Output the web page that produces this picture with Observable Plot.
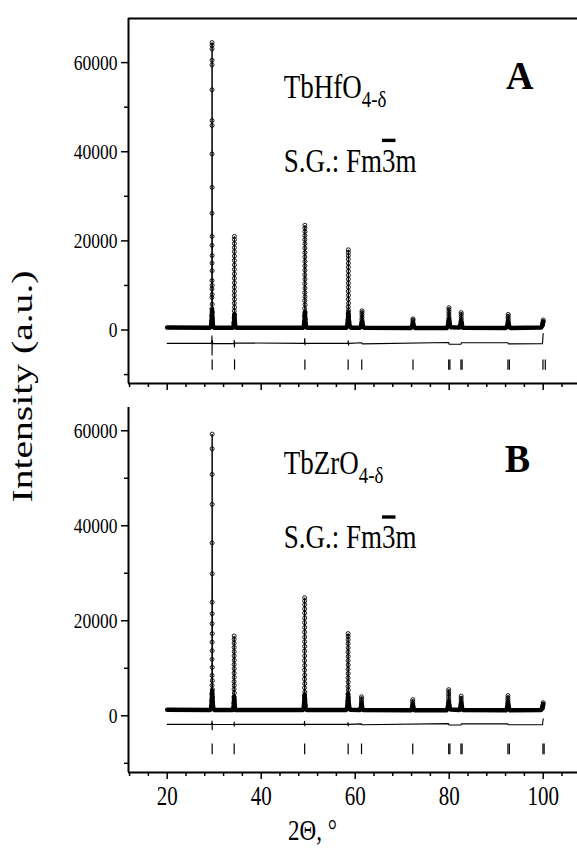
<!DOCTYPE html>
<html><head><meta charset="utf-8">
<script src="https://cdn.jsdelivr.net/npm/d3@7"></script>
<script src="https://cdn.jsdelivr.net/npm/@observablehq/plot@0.6"></script>
<style>
body{margin:0;background:#fff;}
#wrap{position:relative;width:577px;height:853px;background:#fff;}
#wrap > div{position:absolute;left:0;}
</style></head><body>
<div id="wrap"><div id="pa" style="top:0"></div><div id="pb" style="top:395px"></div></div>
<script>
// ---------- axes ----------
const xDomain = [11.77, 107.3];
const xMajor = [20, 40, 60, 80, 100];
const xMinor = [12, 16, 24, 28, 32, 36, 44, 48, 52, 56, 64, 68, 72, 76, 84, 88, 92, 96, 104];
const yMajor = [0, 20000, 40000, 60000];
const yMinor = [-10000, 10000, 30000, 50000];
const yDomainA = [-12000, 69900];
const yDomainB = [-11940, 64900];

// ---------- texts ----------
const formulaA = ["TbHfO", "4-δ"];
const formulaB = ["TbZrO", "4-δ"];
const sgParts = ["S.G.: Fm", "3", "m"];
const panelLetters = ["A", "B"];
const xLabel = "2Θ, °";
const yLabel = "Intensity (a.u.)";

// ---------- panel A (TbHfO4-δ) ----------
// observed points (circles) on the reflections [2θ, I]
const obsA = [
  [29.55,64500],[29.55,63900],[29.55,63100],[29.55,60500],[29.55,59500],[29.55,53900],[29.55,47000],[29.55,45900],[29.54,39500],[29.56,32000],[29.54,26200],[29.56,21000],[29.54,19000],[29.56,16700],[29.54,15000],[29.56,13300],[29.53,11100],[29.57,10000],[29.53,9200],[29.57,8000],[29.52,7300],[29.58,5800],[29.51,4800],[29.6,4000],[29.49,3200],[29.62,2600],[29.46,2100],[29.65,1600],[29.42,1200],[29.7,1000],
  [34.3,21000],[34.3,20300],[34.3,19400],[34.3,18500],[34.29,17600],[34.31,16600],[34.29,15600],[34.31,14600],[34.29,13600],[34.31,12600],[34.29,11600],[34.31,10600],[34.29,9600],[34.31,8700],[34.28,7800],[34.32,6900],[34.28,6000],[34.33,5100],[34.27,4300],[34.34,3500],[34.25,2800],[34.36,2200],[34.22,1700],[34.4,1300],
  [49.3,23500],[49.3,22900],[49.3,22100],[49.3,21200],[49.29,20300],[49.31,19400],[49.29,18400],[49.31,17400],[49.29,16400],[49.31,15400],[49.29,14400],[49.31,13400],[49.29,12400],[49.31,11400],[49.28,10400],[49.32,9400],[49.28,8400],[49.32,7500],[49.27,6600],[49.33,5700],[49.26,4800],[49.34,4000],[49.24,3200],[49.36,2500],[49.22,1900],[49.4,1400],
  [58.55,18000],[58.55,17400],[58.55,16700],[58.54,15900],[58.56,15000],[58.54,14100],[58.56,13200],[58.54,12300],[58.56,11400],[58.54,10500],[58.56,9600],[58.53,8700],[58.57,7800],[58.53,6900],[58.58,6000],[58.52,5200],[58.59,4400],[58.5,3600],[58.61,2900],[58.48,2300],[58.64,1800],[58.45,1400],
  [61.45,4300],[61.45,3900],[61.44,3400],[61.46,2900],[61.42,2400],[61.49,1900],[61.38,1500],[61.54,1100],
  [72.3,2500],[72.3,2200],[72.28,1800],[72.33,1400],[72.24,1100],
  [79.95,5000],[79.95,4600],[79.94,4100],[79.96,3600],[79.93,3100],[79.98,2600],[79.9,2100],[80.03,1700],[79.85,1300],[80.1,1000],
  [82.55,3900],[82.55,3500],[82.54,3000],[82.57,2500],[82.51,2000],[82.61,1600],[82.46,1200],
  [92.55,3500],[92.55,3100],[92.53,2700],[92.58,2300],[92.49,1900],[92.63,1500],[92.43,1150],
  [100.0,2250],[99.96,1800],[99.9,1400],[99.82,1050]
];
// dense observed background (overlapping circles form a band)
const bandA = [
  [20,550],[29.1,520],[29.35,800],[29.47,2200],[29.55,4500],[29.63,2200],[29.75,800],[30.05,520],
  [33.95,520],[34.12,900],[34.25,2200],[34.3,3500],[34.35,2200],[34.45,900],[34.7,520],
  [48.9,500],[49.1,900],[49.23,2500],[49.3,4000],[49.37,2500],[49.5,900],[49.75,500],
  [58.1,500],[58.35,1000],[58.48,2600],[58.55,4000],[58.62,2600],[58.8,1000],[59.05,520],
  [61.05,520],[61.25,900],[61.45,2000],[61.65,900],[61.9,500],
  [71.9,480],[72.1,800],[72.3,1500],[72.5,800],[72.7,480],
  [79.5,480],[79.75,1000],[79.95,2500],[80.15,1000],[80.45,600],
  [82.15,550],[82.35,1000],[82.55,2000],[82.75,1000],[82.95,500],
  [92.1,480],[92.35,900],[92.55,1800],[92.75,900],[93.0,480],
  [99.55,550],[99.8,1000],[100,1900]
];
// calculated profile
const calcA = [
  [20,550],[29.3,700],[29.47,3000],[29.55,64500],[29.63,3000],[29.8,700],
  [34.15,650],[34.26,3000],[34.3,21000],[34.34,3000],[34.45,650],
  [49.12,600],[49.25,3000],[49.3,23500],[49.35,3000],[49.48,600],
  [58.38,600],[58.5,3000],[58.55,18000],[58.6,3000],[58.75,600],
  [61.28,600],[61.45,4300],[61.62,600],
  [72.12,550],[72.3,2500],[72.48,550],
  [79.75,600],[79.95,5000],[80.15,650],
  [82.35,650],[82.55,3900],[82.75,600],
  [92.35,550],[92.55,3500],[92.75,550],
  [99.8,700],[100,2250]
];
// difference curve
const diffA = [
  [20,-3000],[29.35,-3000],[29.48,-2700],[29.52,-1300],[29.55,-5600],[29.59,-2200],[29.7,-3050],
  [34.2,-3000],[34.27,-2300],[34.31,-3800],[34.36,-2900],
  [49.2,-3000],[49.27,-1900],[49.33,-3300],[49.42,-3000],
  [58.45,-3000],[58.52,-2400],[58.58,-3400],[58.68,-3000],
  [61.38,-2850],[61.5,-3100],[79.88,-2800],[80.0,-3200],[82.5,-3200],[82.6,-2850],
  [92.5,-2850],[92.6,-3100],[99.85,-3050],[100,-800]
];
// Bragg reflection positions
const braggA = [29.57, 34.33, 49.3, 58.5, 61.4, 72.3, 79.9, 80.15, 82.5, 82.75, 92.5, 92.8, 99.95, 100.45];
const braggSpanA = [-6700, -9000];

// ---------- panel B (TbZrO4-δ) ----------
const obsB = [
  [29.57,59300],[29.57,56200],[29.57,50800],[29.57,44500],[29.56,36400],[29.58,29900],[29.56,23900],[29.58,21500],[29.56,19400],[29.58,17300],[29.56,15500],[29.58,13700],[29.55,11900],[29.59,10200],[29.55,8500],[29.6,7400],[29.54,6400],[29.61,5500],[29.52,4600],[29.63,3900],[29.5,3200],[29.66,2600],[29.46,2100],[29.7,1700],
  [34.25,16800],[34.25,16100],[34.25,15300],[34.24,14400],[34.26,13500],[34.24,12600],[34.26,11700],[34.24,10800],[34.26,9900],[34.24,9000],[34.26,8100],[34.23,7200],[34.27,6400],[34.23,5600],[34.28,4800],[34.22,4000],[34.29,3300],[34.2,2700],[34.31,2200],[34.17,1800],
  [49.25,24850],[49.25,24200],[49.25,23400],[49.25,22500],[49.24,21600],[49.26,20600],[49.24,19600],[49.26,18600],[49.24,17600],[49.26,16600],[49.24,15600],[49.26,14600],[49.24,13600],[49.26,12600],[49.23,11600],[49.27,10600],[49.23,9600],[49.27,8600],[49.22,7700],[49.28,6800],[49.22,5900],[49.29,5000],[49.21,4200],[49.3,3500],[49.19,2800],[49.32,2300],[49.16,1900],
  [58.5,17300],[58.5,16700],[58.5,16000],[58.49,15200],[58.51,14300],[58.49,13400],[58.51,12500],[58.49,11600],[58.51,10700],[58.49,9800],[58.51,8900],[58.48,8000],[58.52,7100],[58.48,6200],[58.53,5400],[58.47,4600],[58.54,3800],[58.45,3100],[58.56,2600],[58.43,2100],[58.6,1800],
  [61.35,4000],[61.35,3600],[61.34,3200],[61.36,2800],[61.32,2400],[61.39,2000],[61.28,1700],
  [72.25,3400],[72.25,3000],[72.24,2600],[72.27,2200],[72.2,1800],[72.31,1500],
  [79.9,5500],[79.9,5100],[79.89,4600],[79.91,4100],[79.88,3600],[79.93,3100],[79.85,2600],[79.97,2200],[79.8,1800],[80.04,1500],
  [82.55,4150],[82.55,3700],[82.54,3300],[82.57,2900],[82.51,2500],[82.61,2100],[82.46,1700],
  [92.5,4250],[92.5,3800],[92.49,3400],[92.52,3000],[92.46,2600],[92.56,2200],[92.4,1800],[92.64,1500],
  [100.0,2750],[99.95,2200],[99.88,1800],[99.78,1500]
];
const bandB = [
  [20,1250],[29.1,1200],[29.35,1500],[29.47,2900],[29.57,5200],[29.67,2900],[29.8,1500],[30.1,1200],
  [33.95,1200],[34.12,1600],[34.21,2900],[34.25,4000],[34.3,2900],[34.4,1600],[34.6,1200],
  [48.85,1200],[49.05,1600],[49.18,3000],[49.25,4500],[49.32,3000],[49.45,1600],[49.7,1200],
  [58.05,1200],[58.3,1700],[58.43,3100],[58.5,4500],[58.57,3100],[58.75,1700],[59.0,1250],
  [61.0,1200],[61.2,1600],[61.35,2600],[61.5,1600],[61.75,1200],
  [71.85,1150],[72.05,1500],[72.25,2300],[72.45,1500],[72.65,1150],
  [79.45,1150],[79.7,1700],[79.9,3000],[80.1,1700],[80.4,1300],
  [82.15,1200],[82.35,1600],[82.55,2700],[82.75,1600],[82.95,1200],
  [92.05,1150],[92.3,1600],[92.5,2700],[92.7,1600],[92.95,1150],
  [99.5,1200],[99.8,1700],[100,2500]
];
const calcB = [
  [20,1250],[29.3,1400],[29.49,3500],[29.57,59300],[29.65,3500],[29.82,1400],
  [34.1,1350],[34.21,3500],[34.25,16800],[34.29,3500],[34.4,1350],
  [49.07,1300],[49.2,3500],[49.25,24850],[49.3,3500],[49.43,1300],
  [58.33,1300],[58.45,3500],[58.5,17300],[58.55,3500],[58.7,1300],
  [61.18,1300],[61.35,4000],[61.52,1300],
  [72.07,1250],[72.25,3400],[72.43,1250],
  [79.7,1300],[79.9,5500],[80.1,1350],
  [82.35,1350],[82.55,4150],[82.75,1300],
  [92.3,1250],[92.5,4250],[92.7,1250],
  [99.8,1400],[100,2750]
];
const diffB = [
  [20,-1800],[29.35,-1800],[29.5,-1600],[29.54,-1100],[29.57,-2950],[29.61,-1500],[29.7,-1850],
  [34.2,-1800],[34.24,-1300],[34.27,-2200],[34.32,-1800],
  [49.15,-1800],[49.23,-1150],[49.28,-2100],[49.36,-1800],
  [58.42,-1800],[58.48,-1400],[58.53,-2100],[58.6,-1800],
  [61.3,-1700],[61.4,-1900],[79.85,-1650],[79.95,-1950],[82.5,-1950],[82.6,-1700],
  [92.45,-1700],[92.55,-1900],[99.85,-1900],[100,-650]
];
const braggB = [29.57, 34.25, 49.25, 58.5, 61.35, 72.25, 79.9, 80.15, 82.5, 82.75, 92.5, 92.8, 99.95, 100.2];
const braggSpanB = [-5950, -8200];

// annotation anchors (baselines) in data units [2θ, I]
const annotA = {formula: [44.8, 52400], sg: [44.8, 36000], letter: [95.0, 54200]};
const annotB = {formula: [44.8, 51200], sg: [44.8, 35700], letter: [94.5, 51400]};

const X = d => d[0], Y = d => d[1];
const FONT = "'Liberation Serif', 'Times New Roman', serif";
const STRETCH = 1.25; // the reference glyphs are drawn taller than wide

function panel(o) {
  const marks = [
    Plot.axisY({ticks: yMajor, tickSize: 7, tickPadding: 4, strokeWidth: 1.5, fontSize: 17.5, tickFormat: d => String(d), label: null}),
    Plot.axisY({ticks: yMinor, tickSize: 4, strokeWidth: 1.5, tickFormat: () => "", label: null}),
    Plot.axisX({ticks: xMajor, tickSize: 7, tickPadding: 9, strokeWidth: 1.5, fontSize: 21, tickFormat: o.xLabels ? (d => String(d)) : (() => ""), label: null}),
    Plot.axisX({ticks: xMinor, tickSize: 4, strokeWidth: 1.5, tickFormat: () => "", label: null}),
    Plot.ruleX([xDomain[0]], {strokeWidth: 2}),
    Plot.ruleY([o.yDomain[0]], {strokeWidth: 2}),
    Plot.line(o.band, {x: X, y: Y, stroke: "#000", strokeWidth: 4.5, strokeLinejoin: "round"}),
    Plot.line(o.calc, {x: X, y: Y, stroke: "#000", strokeWidth: 1}),
    Plot.dot(o.obs, {x: X, y: Y, r: 2, stroke: "#000", strokeWidth: 0.9, fill: "none"}),
    Plot.line(o.diff, {x: X, y: Y, stroke: "#000", strokeWidth: 1.1}),
    Plot.ruleX(o.bragg, {y1: o.braggSpan[0], y2: o.braggSpan[1], stroke: "#000", strokeWidth: 1.2}),
    Plot.text([o.formula.join("")], {x: o.annot.formula[0], y: o.annot.formula[1], textAnchor: "start", lineAnchor: "bottom", fontSize: 27}),
    Plot.text([sgParts.join("")], {x: o.annot.sg[0], y: o.annot.sg[1], textAnchor: "start", lineAnchor: "bottom", fontSize: 27}),
    Plot.text([o.letter], {x: o.annot.letter[0], y: o.annot.letter[1], textAnchor: "middle", lineAnchor: "bottom", fontSize: 38, fontWeight: "bold"})
  ];
  if (o.top) marks.push(Plot.ruleY([o.yDomain[1]], {strokeWidth: 2}));
  if (o.xLabels) {
    marks.push(Plot.text([xLabel], {frameAnchor: "bottom-left", dx: 184, dy: 58, fontSize: 23, textAnchor: "middle", lineAnchor: "middle"}));
    marks.push(Plot.text([yLabel], {frameAnchor: "top-left", dx: -106, dy: -21, rotate: -90, fontSize: 30, fontWeight: "normal", textAnchor: "middle", lineAnchor: "middle"}));
  }
  return Plot.plot({
    width: 577, height: o.height,
    marginLeft: 128, marginRight: 0, marginTop: o.mt, marginBottom: o.mb,
    style: {fontFamily: FONT, fontSize: "17.5px", color: "#000", background: "transparent", overflow: "visible"},
    x: {domain: xDomain, axis: null},
    y: {domain: o.yDomain, axis: null},
    marks
  });
}

function enrich(svg) {
  d3.select(svg).selectAll("text").each(function() {
    const el = d3.select(this);
    const t = this.textContent;
    if (t === "") return;
    for (const f of [formulaA, formulaB]) {
      if (t === f.join("")) {
        el.text(null);
        el.append("tspan").text(f[0]);
        el.append("tspan").attr("dy", "0.36em").attr("font-size", "0.7em").text(f[1]);
      }
    }
    if (t === sgParts.join("")) {
      el.text(null);
      el.append("tspan").text(sgParts[0]);
      el.append("tspan").style("text-decoration", "overline").style("text-decoration-thickness", "1px").text(sgParts[1]);
      el.append("tspan").text(sgParts[2]);
    }
    if (t === yLabel) {
      el.attr("textLength", 232).attr("lengthAdjust", "spacingAndGlyphs");
      return;
    }
    const s = panelLetters.includes(t) ? 1.06 : STRETCH;
    const b = this.getBBox();
    const cx = b.x + b.width / 2, cy = b.y + b.height / 2;
    const t0 = el.attr("transform") || "";
    el.attr("transform", `${t0} translate(${cx},${cy}) scale(1,${s}) translate(${-cx},${-cy})`);
  });
  return svg;
}

const svgA = panel({height: 395, mt: 18, mb: 12, yDomain: yDomainA, obs: obsA, band: bandA, calc: calcA, diff: diffA,
  bragg: braggA, braggSpan: braggSpanA, formula: formulaA, letter: panelLetters[0], annot: annotA, top: true, xLabels: false});
const svgB = panel({height: 458, mt: 12, mb: 81, yDomain: yDomainB, obs: obsB, band: bandB, calc: calcB, diff: diffB,
  bragg: braggB, braggSpan: braggSpanB, formula: formulaB, letter: panelLetters[1], annot: annotB, top: false, xLabels: true});
document.getElementById("pa").appendChild(svgA);
document.getElementById("pb").appendChild(svgB);
enrich(svgA);
enrich(svgB);
</script>
</body></html>
